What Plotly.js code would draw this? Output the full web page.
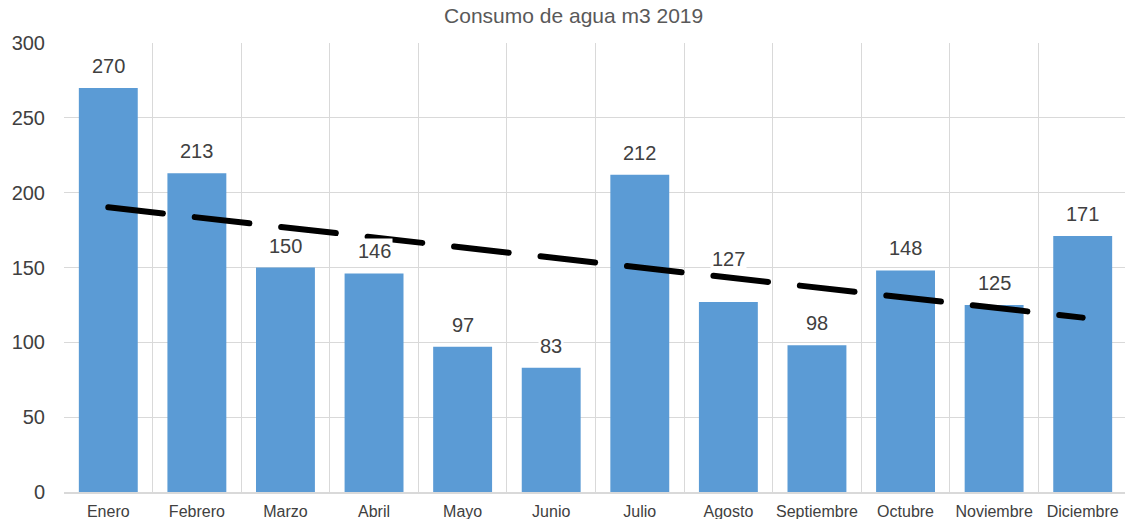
<!DOCTYPE html>
<html>
<head>
<meta charset="utf-8">
<script src="https://cdn.plot.ly/plotly-3.0.1.min.js"></script>
<style>
html,body{margin:0;padding:0;overflow:hidden;background:#fff;}
.scatterlayer .js-line{stroke-linecap:round !important;}
</style>
</head>
<body>
<div id="chart" style="width:1127px;height:519px;"></div>
<script>
const months = ["Enero","Febrero","Marzo","Abril","Mayo","Junio","Julio","Agosto","Septiembre","Octubre","Noviembre","Diciembre"];
const consumo = [270,213,150,146,97,83,212,127,98,148,125,171];
const trendMonths = ["Enero","Diciembre"];
const trendValues = [190.2,116.5];
const yTicks = [0,50,100,150,200,250,300];

// label placement tweak (style only): the Agosto label sits higher to clear the trend line
const labelLift = {"Agosto": 21};

const bars = {
  type: "bar",
  x: months,
  y: consumo,
  marker: {color: "#5B9BD5"},
  hoverinfo: "x+y",
  showlegend: false
};
const trend = {
  type: "scatter",
  mode: "lines",
  x: trendMonths,
  y: trendValues,
  line: {color: "#000000", width: 6, dash: "55px,32px"},
  hoverinfo: "skip",
  showlegend: false
};

const annotations = months.map((m, i) => ({
  x: m, y: consumo[i], xref: "x", yref: "y",
  text: String(consumo[i]),
  showarrow: false,
  yanchor: "bottom",
  yshift: 9 + (labelLift[m] || 0),
  bgcolor: "#ffffff",
  borderpad: 1,
  font: {family: "Liberation Sans, Arial, sans-serif", size: 20, color: "#404040"}
}));

const layout = {
  width: 1127,
  height: 519,
  margin: {l: 64, r: 0, t: 43, b: 27},
  paper_bgcolor: "#ffffff",
  plot_bgcolor: "#ffffff",
  bargap: 0.335,
  title: {
    text: "Consumo de agua m3 2019",
    x: 0.509, xanchor: "center", xref: "container",
    y: 1, yanchor: "top", yref: "container", pad: {t: 8},
    font: {family: "Liberation Sans, Arial, sans-serif", size: 21, color: "#595959"}
  },
  xaxis: {
    type: "category",
    tickson: "boundaries",
    showgrid: true,
    gridcolor: "#d9d9d9",
    gridwidth: 1,
    showline: true,
    linecolor: "#d9d9d9",
    linewidth: 2,
    ticks: "",
    tickangle: 0,
    ticklabelstandoff: 4,
    tickfont: {family: "Liberation Sans, Arial, sans-serif", size: 16, color: "#404040"},
    fixedrange: true
  },
  yaxis: {
    range: [0, 300],
    tickvals: yTicks,
    ticktext: yTicks.map(String),
    showgrid: true,
    gridcolor: "#d9d9d9",
    gridwidth: 1,
    zeroline: false,
    showline: false,
    ticks: "",
    ticklabelstandoff: 18,
    tickfont: {family: "Liberation Sans, Arial, sans-serif", size: 20, color: "#404040"},
    fixedrange: true
  },
  annotations: annotations
};

Plotly.newPlot("chart", [bars, trend], layout, {displayModeBar: false, staticPlot: true});
</script>
</body>
</html>
